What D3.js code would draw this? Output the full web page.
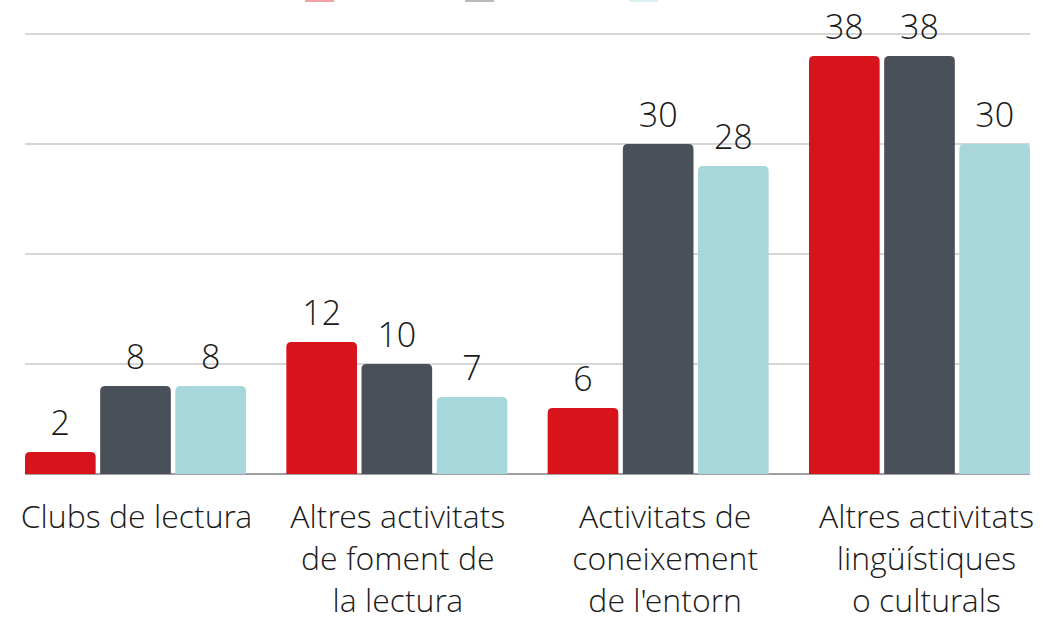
<!DOCTYPE html>
<html>
<head>
  <script src="https://cdnjs.cloudflare.com/ajax/libs/d3/7.8.5/d3.min.js"></script>
  <style>
    body { margin: 0; background: #fff; }
    text { font-family: "Open Sans Light", "Open Sans", sans-serif; font-weight: 300; fill: #1a1a1a; }
  </style>
</head>
<body>
  <svg id="chart" width="1057" height="619"></svg>
  <script>
    // categories (one line per entry)
    const categories = [
      ["Clubs de lectura"],
      ["Altres activitats", "de foment de", "la lectura"],
      ["Activitats de", "coneixement", "de l'entorn"],
      ["Altres activitats", "lingüístiques", "o culturals"]
    ]
    const seriesA = [2, 12, 6, 38]
    const seriesB = [8, 10, 30, 38]
    const seriesC = [8, 7, 28, 30]
    const seriesColors = ["#d7141c", "#4a5059", "#a8d7db"]
    const yTicks = [0, 10, 20, 30, 40]

    const svg = d3.select('#chart')
    const mLeft = 25, mRight = 1030, mTop = 34, mBottom = 474

    const x0 = d3.scaleBand().domain(d3.range(categories.length)).range([mLeft, mRight]).paddingInner(0.1543)
    const x1 = d3.scaleBand().domain([0, 1, 2]).range([0, x0.bandwidth()]).paddingInner(0.06)
    const y = d3.scaleLinear().domain([0, 40]).range([mBottom, mTop])

    // grid
    svg.append('g')
      .selectAll('line')
      .data(yTicks.filter(d => d > 0))
      .enter()
      .append('line')
      .attr('x1', mLeft).attr('x2', mRight)
      .attr('y1', d => y(d)).attr('y2', d => y(d))
      .style('stroke', '#c8c8c8')
      .style('stroke-width', '1.5px')

    // legend swatches (mostly cut off at the top)
    const legendX = d3.scaleOrdinal().domain([0, 1, 2]).range([305, 465, 629])
    svg.append('g')
      .selectAll('rect')
      .data([0, 1, 2])
      .enter()
      .append('rect')
      .attr('x', d => legendX(d)).attr('y', -12)
      .attr('width', 29).attr('height', 14)
      .style('fill', d => seriesColors[d])
      .style('opacity', 0.4)

    const rows = categories.map((c, i) => [seriesA[i], seriesB[i], seriesC[i]])

    function topRounded(x, yTop, w, h, r) {
      r = Math.min(r, h, w / 2)
      return `M${x},${yTop + h}V${yTop + r}Q${x},${yTop} ${x + r},${yTop}H${x + w - r}Q${x + w},${yTop} ${x + w},${yTop + r}V${yTop + h}Z`
    }

    // baseline
    svg.append('line')
      .attr('x1', mLeft).attr('x2', mRight)
      .attr('y1', y(0)).attr('y2', y(0))
      .style('stroke', '#7f7f7f')
      .style('stroke-width', '1.5px')

    const groups = svg.append('g')
      .selectAll('g')
      .data(rows)
      .enter()
      .append('g')
      .attr('transform', (d, i) => 'translate(' + x0(i) + ',0)')

    groups.selectAll('path')
      .data(d => d)
      .enter()
      .append('path')
      .attr('d', (d, j) => topRounded(x1(j), y(d), x1.bandwidth(), y(0) - y(d), 5))
      .style('fill', (d, j) => seriesColors[j])

    groups.selectAll('text.val')
      .data(d => d)
      .enter()
      .append('text')
      .attr('class', 'val')
      .attr('x', (d, j) => x1(j) + x1.bandwidth() / 2)
      .attr('y', d => y(d) - 17)
      .attr('text-anchor', 'middle')
      .style('font-size', '34px')
      .text(d => d)

    // category labels
    const labels = svg.append('g')
      .selectAll('text')
      .data(categories)
      .enter()
      .append('text')
      .attr('text-anchor', 'middle')
      .style('font-size', '32px')
      .attr('x', (d, i) => x0(i) + x0.bandwidth() / 2 + (i > 1 ? 7 : 1))
      .attr('y', 528)

    labels.selectAll('tspan')
      .data(d => d)
      .enter()
      .append('tspan')
      .attr('x', function() { return d3.select(this.parentNode).attr('x') })
      .attr('dy', (d, k) => k === 0 ? 0 : 42)
      .text(d => d)
  </script>
</body>
</html>
